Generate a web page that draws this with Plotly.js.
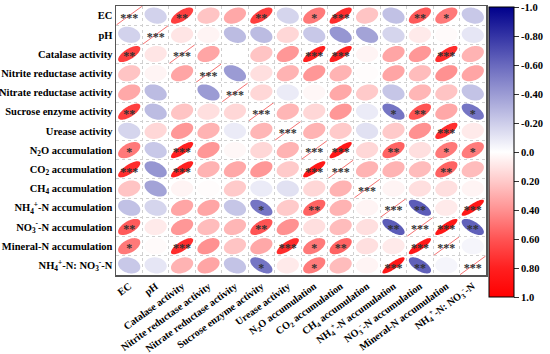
<!DOCTYPE html>
<html><head><meta charset="utf-8">
<script src="https://cdn.plot.ly/plotly-3.0.1.min.js"></script>
<style>html,body{margin:0;padding:0;background:#fff}</style>
</head><body><div id="chart" style="width:550px;height:354px"></div>
<script>
const labels = [
  'EC','pH','Catalase activity','Nitrite reductase activity','Nitrate reductase activity',
  'Sucrose enzyme activity','Urease activity','N<sub>2</sub>O accumulation','CO<sub>2</sub> accumulation',
  'CH<sub>4</sub> accumulation','NH<sub>4</sub><sup>+</sup>-N accumulation','NO<sub>3</sub><sup>-</sup>-N accumulation',
  'Mineral-N accumulation','NH<sub>4</sub><sup>+</sup>-N: NO<sub>3</sub><sup>-</sup>-N'
];
const corr = [
  [1, -0.18, 0.68, 0.22, 0.32, 0.68, -0.17, 0.48, 0.75, 0.22, -0.25, 0.58, 0.48, -0.22],
  [-0.18, 1, 0.10, 0.04, -0.27, -0.27, 0.15, -0.22, -0.42, -0.37, -0.17, 0.08, 0.02, -0.10],
  [0.68, 0.10, 1, 0.33, 0.00, 0.22, 0.38, 0.80, 0.80, 0.04, 0.33, 0.38, 0.75, 0.28],
  [0.22, 0.04, 0.33, 1, -0.40, 0.12, 0.28, 0.38, 0.28, 0.01, 0.33, 0.25, 0.40, 0.33],
  [0.32, -0.27, 0.00, -0.40, 1, 0.15, -0.08, 0.03, 0.32, 0.20, -0.23, 0.27, 0.22, -0.24],
  [0.68, -0.27, 0.22, 0.12, 0.15, 1, 0.27, 0.15, 0.38, -0.08, -0.55, 0.60, 0.32, -0.55],
  [-0.17, 0.15, 0.38, 0.28, -0.08, 0.27, 1, 0.28, 0.20, -0.12, 0.20, 0.40, 0.75, 0.08],
  [0.48, -0.22, 0.80, 0.38, 0.03, 0.15, 0.28, 1, 0.85, 0.15, 0.55, 0.12, 0.48, 0.47],
  [0.75, -0.42, 0.80, 0.28, 0.32, 0.38, 0.20, 0.85, 1, 0.28, 0.28, 0.25, 0.55, 0.25],
  [0.22, -0.37, 0.04, 0.01, 0.20, -0.08, -0.12, 0.15, 0.28, 1, 0.04, 0.12, 0.12, 0.04],
  [-0.25, -0.17, 0.33, 0.33, -0.23, -0.55, 0.20, 0.55, 0.28, 0.04, 1, -0.65, 0.08, 0.85],
  [0.58, 0.08, 0.38, 0.25, 0.27, 0.60, 0.40, 0.12, 0.25, 0.12, -0.65, 1, 0.85, -0.63],
  [0.48, 0.02, 0.75, 0.40, 0.22, 0.32, 0.75, 0.48, 0.55, 0.12, 0.08, 0.85, 1, -0.04],
  [-0.22, -0.10, 0.28, 0.33, -0.24, -0.55, 0.08, 0.47, 0.25, 0.04, 0.85, -0.63, -0.04, 1]
];
const sig = [
  ['***','','**','','','**','','*','***','','','**','*',''],
  ['','***','','','','','','','','','','','',''],
  ['**','','***','','','','','***','***','','','','***',''],
  ['','','','***','','','','','','','','','',''],
  ['','','','','***','','','','','','','','',''],
  ['**','','','','','***','','','','','*','**','','*'],
  ['','','','','','','***','','','','','','***',''],
  ['*','','***','','','','','***','***','','**','','*','*'],
  ['***','','***','','','','','***','***','','','','**',''],
  ['','','','','','','','','','***','','','',''],
  ['','','','','','*','','**','','','***','**','','***'],
  ['**','','','','','**','','','','','**','***','***','**'],
  ['*','','***','','','','***','*','**','','','***','***',''],
  ['','','','','','*','','*','','','***','**','','***']
];
const cbValues = [-1, -0.8, -0.6, -0.4, -0.2, 0, 0.2, 0.4, 0.6, 0.8, 1];
const cbLabels = ['-1.0','-0.80','-0.60','-0.40','-0.20','0.0','0.20','0.40','0.60','0.80','1.0'];

// colour ramp stops (r value -> rgb)
const rampR = [-1, -0.8, -0.6, -0.4, -0.2, 0, 0.2, 0.4, 0.6, 0.8, 1];
const rampC = [[0,0,139],[52,52,165],[105,105,190],[155,155,212],[205,205,234],[255,255,255],
               [255,202,202],[255,145,145],[255,84,84],[255,32,32],[255,0,0]];

const FONT = 'Liberation Serif, Times New Roman, serif';
function colorFor(r) {
  for (let k = 0; k < rampR.length - 1; k++) {
    if (r <= rampR[k+1]) {
      const f = (r - rampR[k]) / (rampR[k+1] - rampR[k]);
      const c = rampC[k].map((v, q) => Math.round(v + f * (rampC[k+1][q] - v)));
      return `rgb(${c[0]},${c[1]},${c[2]})`;
    }
  }
  return 'rgb(255,0,0)';
}
// colorbar shows -1 at top: plot -r so the top of the bar is r = -1
const colorscale = rampR.slice().reverse().map((r, k) => [k / (rampR.length - 1), colorFor(r)]);

const n = labels.length;
const shapes = [];
const S = 0.42;
const sx = [], sy = [], st = [];
for (let i = 0; i < n; i++) {
  for (let j = 0; j < n; j++) {
    const r = corr[i][j];
    if (i === j) {
      shapes.push({type:'line', xref:'x', yref:'y', x0: j-0.48, y0: i+0.48, x1: j+0.48, y1: i-0.48,
        line:{color:'rgb(245,115,115)', width:1}, layer:'below'});
    } else {
      const d = Math.acos(r);
      let p = '';
      const N = 72;
      for (let k = 0; k < N; k++) {
        const t = 2*Math.PI*k/N;
        const dx = S*Math.cos(t + d/2);
        const dy = S*Math.cos(t - d/2);
        p += (k === 0 ? 'M' : 'L') + (j+dx).toFixed(4) + ',' + (i-dy).toFixed(4);
      }
      p += 'Z';
      shapes.push({type:'path', xref:'x', yref:'y', path:p, fillcolor: colorFor(r), line:{width:0}, layer:'below'});
    }
    if (sig[i][j]) { sx.push(j); sy.push(i + 0.17); st.push(sig[i][j]); }
  }
}

const idx = labels.map((_, k) => k);
const half = Array.from({length: n+1}, (_, k) => k - 0.5);
const cx = [], cy = [], cc = [];
for (let i = 0; i < n; i++) for (let j = 0; j < n; j++) { cx.push(j); cy.push(i); cc.push(-corr[i][j]); }

const scaleTrace = {
  type:'scatter', mode:'markers', x: cx, y: cy, hoverinfo:'skip', showlegend:false,
  marker:{size:1, opacity:0, color: cc, cmin:-1, cmax:1, colorscale: colorscale,
    showscale:true,
    colorbar:{thickness:25, len:290, lenmode:'pixels', x:1.008, xanchor:'left', xpad:0,
      y:0.457, yanchor:'middle', ypad:0, outlinecolor:'#000', outlinewidth:1,
      ticks:'outside', ticklen:5, tickcolor:'#333', tickmode:'array',
      tickvals: cbValues.map(v => -v), ticktext: cbLabels,
      tickfont:{family:FONT, size:10.5, color:'#000', weight:'bold'}}
  }
};
const starTrace = {
  type:'scatter', mode:'text', x: sx, y: sy, text: st, textposition:'middle center',
  hoverinfo:'skip', showlegend:false,
  textfont:{family:FONT, size:12, color:'#333333', weight:'bold'}
};

const axisFont = {family:FONT, size:10.5, color:'#000', weight:'bold'};
const layout = {
  width:550, height:354, margin:{l:116, r:62, t:6, b:79},
  paper_bgcolor:'#fff', plot_bgcolor:'#fff', showlegend:false,
  xaxis:{range:[-0.5, n-0.5], tickmode:'array', tickvals: idx, ticktext: labels, tickangle:-36,
    tickfont: {family:FONT, size:10.2, color:'#000', weight:'bold'}, showgrid:false, zeroline:false, ticks:'',
    automargin:false, ticklabelstandoff:0,
    showline:true, mirror:true, linecolor:'#555', linewidth:1.5,
    minor:{tickmode:'array', tickvals: half, showgrid:true, gridcolor:'#d0d0d0', griddash:'dot', gridwidth:1, ticks:''}},
  yaxis:{range:[n-0.5, -0.5], tickmode:'array', tickvals: idx, ticktext: labels,
    tickfont: axisFont, showgrid:false, zeroline:false, ticks:'', automargin:false,
    showline:true, mirror:true, linecolor:'#555', linewidth:1.5,
    minor:{tickmode:'array', tickvals: half, showgrid:true, gridcolor:'#d0d0d0', griddash:'dot', gridwidth:1, ticks:''}},
  shapes
};
Plotly.newPlot('chart', [scaleTrace, starTrace], layout, {staticPlot:true, displayModeBar:false});
</script></body></html>
